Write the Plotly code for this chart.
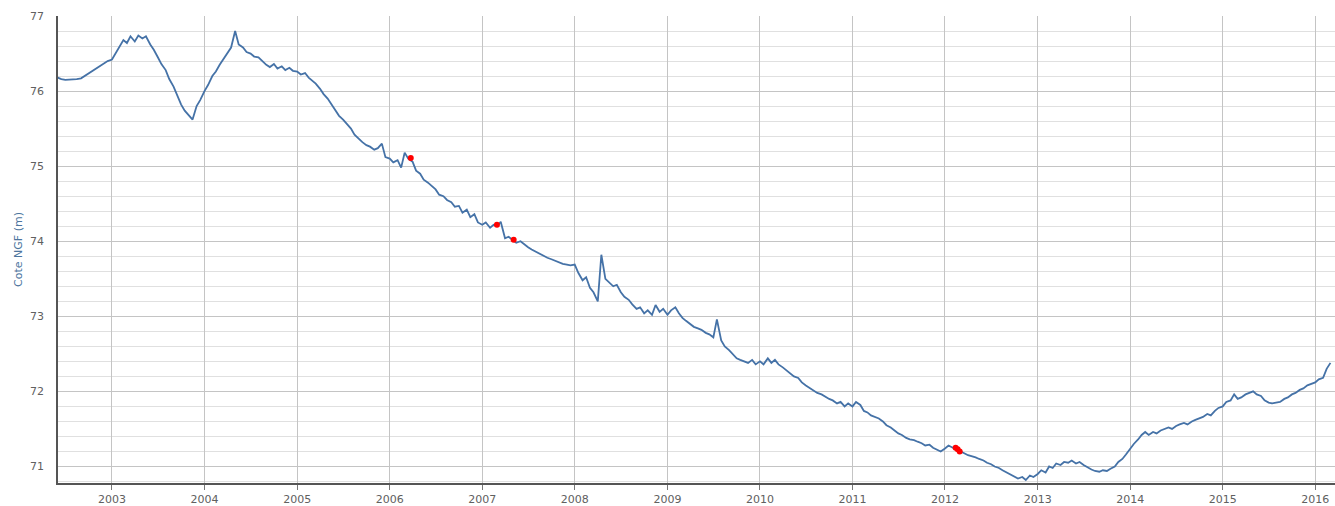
import plotly.graph_objects as go
import pandas as pd

# Water level (Cote NGF, m), semi-monthly samples (1st and 15th)
lvl_2002 = [76.18, 76.16, 76.15, 76.15, 76.15, 76.16, 76.17, 76.20, 76.24, 76.27, 76.31, 76.34, 76.37, 76.40]
lvl_2003 = [76.42, 76.50, 76.60, 76.68, 76.64, 76.73, 76.66, 76.74, 76.70, 76.73, 76.62, 76.55,
            76.45, 76.36, 76.28, 76.16, 76.06, 75.95, 75.82, 75.74, 75.68, 75.62, 75.80, 75.88]
lvl_2004 = [76.00, 76.08, 76.20, 76.26, 76.35, 76.42, 76.52, 76.58, 76.80, 76.62, 76.58, 76.52,
            76.50, 76.46, 76.45, 76.40, 76.35, 76.32, 76.36, 76.30, 76.33, 76.28, 76.31, 76.27]
lvl_2005 = [76.26, 76.22, 76.24, 76.18, 76.14, 76.10, 76.03, 75.96, 75.90, 75.83, 75.74, 75.67,
            75.62, 75.56, 75.50, 75.42, 75.36, 75.32, 75.28, 75.26, 75.22, 75.24, 75.30, 75.12]
lvl_2006 = [75.10, 75.05, 75.08, 74.98, 75.18, 75.10, 75.06, 74.94, 74.90, 74.82, 74.78, 74.74,
            74.69, 74.62, 74.60, 74.55, 74.52, 74.46, 74.47, 74.38, 74.42, 74.32, 74.36, 74.25]
lvl_2007 = [74.22, 74.25, 74.18, 74.22, 74.20, 74.26, 74.04, 74.06, 74.02, 73.98, 74.00, 73.96,
            73.92, 73.89, 73.86, 73.83, 73.80, 73.78, 73.76, 73.74, 73.72, 73.70, 73.69, 73.68]
lvl_2008 = [73.69, 73.58, 73.48, 73.52, 73.38, 73.32, 73.20, 73.82, 73.50, 73.46, 73.40, 73.42,
            73.32, 73.26, 73.22, 73.16, 73.10, 73.12, 73.04, 73.08, 73.02, 73.15, 73.06, 73.10]
lvl_2009 = [73.02, 73.08, 73.12, 73.04, 72.98, 72.94, 72.90, 72.86, 72.84, 72.82, 72.78, 72.76,
            72.72, 72.96, 72.68, 72.60, 72.55, 72.50, 72.44, 72.42, 72.40, 72.38, 72.42, 72.36]
lvl_2010 = [72.40, 72.36, 72.44, 72.38, 72.42, 72.36, 72.32, 72.28, 72.24, 72.20, 72.18, 72.12,
            72.08, 72.05, 72.02, 71.98, 71.96, 71.93, 71.90, 71.88, 71.84, 71.86, 71.80, 71.84]
lvl_2011 = [71.80, 71.86, 71.82, 71.74, 71.72, 71.68, 71.66, 71.64, 71.60, 71.55, 71.52, 71.48,
            71.44, 71.42, 71.38, 71.36, 71.35, 71.33, 71.31, 71.28, 71.29, 71.25, 71.22, 71.20]
lvl_2012 = [71.24, 71.28, 71.25, 71.23, 71.21, 71.18, 71.15, 71.14, 71.12, 71.10, 71.08, 71.05,
            71.03, 71.00, 70.98, 70.95, 70.92, 70.89, 70.86, 70.84, 70.86, 70.82, 70.88, 70.86]
lvl_2013 = [70.90, 70.95, 70.92, 71.00, 70.98, 71.04, 71.02, 71.06, 71.05, 71.08, 71.04, 71.06,
            71.02, 70.99, 70.96, 70.94, 70.93, 70.95, 70.94, 70.97, 71.00, 71.06, 71.10, 71.16]
lvl_2014 = [71.24, 71.30, 71.36, 71.42, 71.46, 71.42, 71.46, 71.44, 71.48, 71.50, 71.52, 71.50,
            71.54, 71.56, 71.58, 71.56, 71.60, 71.62, 71.64, 71.66, 71.70, 71.68, 71.74, 71.78]
lvl_2015 = [71.80, 71.86, 71.88, 71.96, 71.90, 71.92, 71.96, 71.98, 72.00, 71.96, 71.94, 71.88,
            71.85, 71.84, 71.85, 71.86, 71.90, 71.92, 71.96, 71.98, 72.02, 72.04, 72.08, 72.10]
lvl_2016 = [72.12, 72.16, 72.18, 72.30, 72.38]

segment_starts = ["2002-06-01", "2003-01-01", "2004-01-01", "2005-01-01", "2006-01-01",
                  "2007-01-01", "2008-01-01", "2009-01-01", "2010-01-01", "2011-01-01",
                  "2012-01-01", "2013-01-01", "2014-01-01", "2015-01-01", "2016-01-01"]
segment_levels = [lvl_2002, lvl_2003, lvl_2004, lvl_2005, lvl_2006, lvl_2007, lvl_2008,
                  lvl_2009, lvl_2010, lvl_2011, lvl_2012, lvl_2013, lvl_2014, lvl_2015, lvl_2016]

# Flagged measurements (red points)
red_dates = ["2006-03-25", "2007-02-28", "2007-05-05", "2012-02-12", "2012-02-20", "2012-02-28"]
red_levels = [75.11, 74.22, 74.02, 71.25, 71.23, 71.20]

year_ticks = list(range(2003, 2017))
level_ticks = [71, 72, 73, 74, 75, 76, 77]

dates, levels = [], []
for start, vals in zip(segment_starts, segment_levels):
    dates += list(pd.date_range(start, periods=len(vals), freq="SMS"))
    levels += vals

fig = go.Figure()
fig.add_trace(go.Scatter(x=dates, y=levels, mode="lines",
                         line=dict(color="#4572A7", width=1.8), showlegend=False))
fig.add_trace(go.Scatter(x=pd.to_datetime(red_dates), y=red_levels, mode="markers",
                         marker=dict(color="#FF0000", size=6), showlegend=False))

font = "DejaVu Sans, Verdana, Arial, sans-serif"
fig.update_layout(
    width=1335, height=506, autosize=False,
    margin=dict(l=58, r=0, t=16, b=16),
    paper_bgcolor="white", plot_bgcolor="white",
    font=dict(family=font, size=11, color="#606060"),
    xaxis=dict(
        type="date", range=["2002-06-02", "2016-03-19"],
        tickvals=[pd.Timestamp(f"{y}-01-01") for y in year_ticks],
        ticktext=[str(y) for y in year_ticks],
        showgrid=True, gridcolor="#C4C4C4", gridwidth=1,
        showline=True, linecolor="#555555", linewidth=1.5,
        ticks="outside", ticklen=5, tickcolor="#777777",
        zeroline=False, tickfont=dict(size=11, color="#606060"),
    ),
    yaxis=dict(
        range=[70.78, 77.0],
        tickvals=level_ticks, ticktext=[str(v) for v in level_ticks],
        showgrid=True, gridcolor="#C4C4C4", gridwidth=1,
        minor=dict(tick0=71, dtick=0.2, showgrid=True, gridcolor="#E0E0E0", gridwidth=1),
        showline=True, linecolor="#555555", linewidth=1.5,
        ticks="", ticklabelstandoff=10, zeroline=False,
        tickfont=dict(size=11, color="#606060"),
        title=dict(text="Cote NGF (m)", font=dict(size=11, color="#4D759E"), standoff=5),
    ),
)

fig.write_html("out.html", config={"displayModeBar": False},
               post_script="document.body.style.margin='0';document.body.style.padding='0';")
